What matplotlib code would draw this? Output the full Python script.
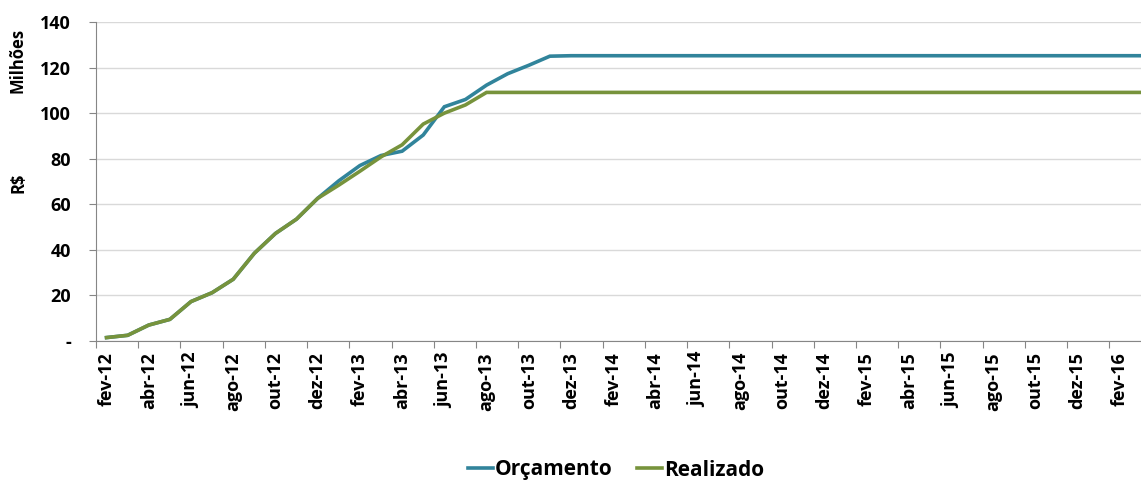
import matplotlib
matplotlib.use("Agg")
import matplotlib.pyplot as plt

# months fev-12 .. mar-16
meses = ["jan", "fev", "mar", "abr", "mai", "jun", "jul", "ago", "set", "out", "nov", "dez"]
labels = []
for k in range(50):
    m = (1 + k) % 12
    a = 12 + (1 + k) // 12
    labels.append("%s-%d" % (meses[m], a))

orcamento_ini = [1.5, 2.5, 7.0, 9.5, 17.3, 21.2, 27.1, 38.5, 47.2, 53.5, 62.6, 70.3,
                 77.0, 81.4, 83.3, 90.4, 102.8, 106.0, 112.3, 117.3, 121.0, 125.0]
realizado_ini = [1.5, 2.5, 7.0, 9.5, 17.3, 21.2, 27.1, 38.5, 47.2, 53.5, 62.6, 68.4,
                 74.5, 80.8, 86.1, 95.2, 100.0, 103.6, 109.1]
orcamento = orcamento_ini + [125.2] * (50 - len(orcamento_ini))
realizado = realizado_ini + [109.1] * (50 - len(realizado_ini))

plt.rcParams['font.family'] = ['Open Sans', 'DejaVu Sans']
plt.rcParams['font.weight'] = 'bold'

fig = plt.figure(figsize=(11.41, 4.82), dpi=100)
ax = fig.add_axes([96 / 1141, 1 - 341 / 482, 1 - 96 / 1141, (341 - 22) / 482])

x = list(range(50))
ax.plot(x, orcamento, color="#31849B", lw=2.6, label="Orçamento", solid_joinstyle="miter")
ax.plot(x, realizado, color="#77933C", lw=2.6, label="Realizado", solid_joinstyle="miter")

ax.set_xlim(-0.5, 49.0)
ax.set_ylim(0, 140)
ax.set_yticks(range(0, 141, 20))
ax.set_yticklabels(["-"] + [str(v) for v in range(20, 141, 20)], fontsize=13, fontweight="bold")
ax.yaxis.grid(True, color="#D9D9D9", lw=1)
ax.set_axisbelow(True)

ax.set_xticks([i - 0.5 for i in range(0, 50, 2)])
ax.set_xticklabels([])
ax.set_xticks(list(range(0, 50, 2)), minor=True)
ax.set_xticklabels(labels[0::2], minor=True, rotation=90, fontsize=13, fontweight="bold")
ax.tick_params(axis="x", which="major", length=5, color="#868686", direction="out")
ax.tick_params(axis="x", which="minor", length=0, pad=8)
ax.tick_params(axis="y", length=5, color="#868686", pad=13)

for s in ["top", "right"]:
    ax.spines[s].set_visible(False)
for s in ["left", "bottom"]:
    ax.spines[s].set_color("#868686")

fig.text(18 / 1141, 1 - 183 / 482, "R$", rotation=90, ha="center", va="center", fontsize=12, fontweight="bold")
fig.text(18 / 1141, 1 - 60 / 482, "Milhões", rotation=90, ha="center", va="center", fontsize=12, fontweight="bold")

fig.legend(loc="center", bbox_to_anchor=(0.54, 1 - 470 / 482), ncol=2, frameon=False,
           handlelength=1.2, handletextpad=0.1, columnspacing=1.2,
           prop={"weight": "bold", "size": 15})

fig.savefig("out.png", dpi=100)
